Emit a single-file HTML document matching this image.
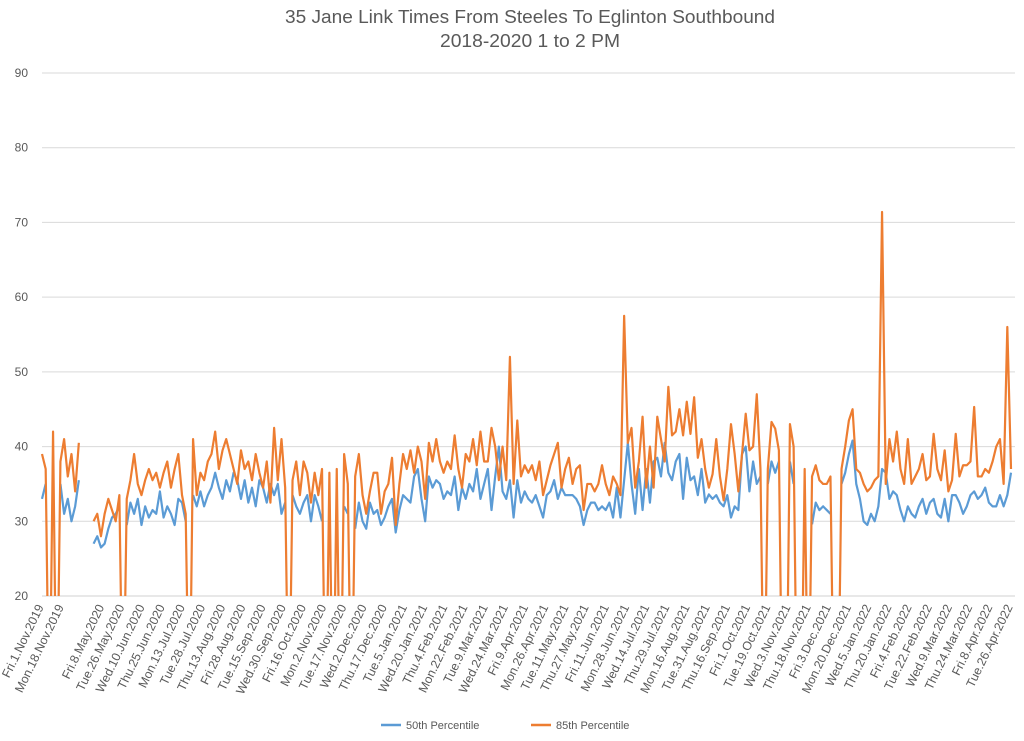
<!DOCTYPE html>
<html><head><meta charset="utf-8">
<style>
body{margin:0;background:#fff;}
svg{display:block;font-family:"Liberation Sans",sans-serif;}
</style></head>
<body>
<svg id="chart" width="1024" height="741" viewBox="0 0 1024 741" xmlns="http://www.w3.org/2000/svg">
<defs><clipPath id="plotclip"><rect x="38" y="60" width="985" height="536"/></clipPath></defs>
<rect width="1024" height="741" fill="#fff"/>
<text x="530" y="23" text-anchor="middle" font-size="18" fill="#595959" textLength="490" lengthAdjust="spacingAndGlyphs">35 Jane Link Times From Steeles To Eglinton Southbound</text>
<text x="530" y="47" text-anchor="middle" font-size="18" fill="#595959" textLength="180" lengthAdjust="spacingAndGlyphs">2018-2020 1 to 2 PM</text>
<g id="grid"></g>
<g id="yticks"></g>
<g id="xticks"></g>
<g id="series" clip-path="url(#plotclip)"></g>
<g>
<g>
<line x1="381" y1="725" x2="401" y2="725" stroke="#5B9BD5" stroke-width="2.5"/>
<text x="406" y="729" font-size="11" fill="#595959">50th Percentile</text>
</g>
<g>
<line x1="531" y1="725" x2="551" y2="725" stroke="#ED7D31" stroke-width="2.5"/>
<text x="556" y="729" font-size="11" fill="#595959">85th Percentile</text>
</g>
</g>
</svg>
<script>
const yTicks = [20,30,40,50,60,70,80,90];
const xLabels = ["Fri.1.Nov.2019","Mon.18.Nov.2019",null,"Fri.8.May.2020","Tue.26.May.2020","Wed.10.Jun.2020","Thu.25.Jun.2020","Mon.13.Jul.2020","Tue.28.Jul.2020","Thu.13.Aug.2020","Fri.28.Aug.2020","Tue.15.Sep.2020","Wed.30.Sep.2020","Fri.16.Oct.2020","Mon.2.Nov.2020","Tue.17.Nov.2020","Wed.2.Dec.2020","Thu.17.Dec.2020","Tue.5.Jan.2021","Wed.20.Jan.2021","Thu.4.Feb.2021","Mon.22.Feb.2021","Tue.9.Mar.2021","Wed.24.Mar.2021","Fri.9.Apr.2021","Mon.26.Apr.2021","Tue.11.May.2021","Thu.27.May.2021","Fri.11.Jun.2021","Mon.28.Jun.2021","Wed.14.Jul.2021","Thu.29.Jul.2021","Mon.16.Aug.2021","Tue.31.Aug.2021","Thu.16.Sep.2021","Fri.1.Oct.2021","Tue.19.Oct.2021","Wed.3.Nov.2021","Thu.18.Nov.2021","Fri.3.Dec.2021","Mon.20.Dec.2021","Wed.5.Jan.2022","Thu.20.Jan.2022","Fri.4.Feb.2022","Tue.22.Feb.2022","Wed.9.Mar.2022","Thu.24.Mar.2022","Fri.8.Apr.2022","Tue.26.Apr.2022"];
const p85 = [
39,37,0,42,0,38,41,36,39,34,40.5,
null,null,null,
30,31,28,31,33,31.5,30,33.5,0,33,35.5,39,35,33.5,35.5,37,35.5,36.5,34.5,36.5,38,34.5,37,39,33.5,31,0,
41,33.5,36.5,35.5,38,39,42,37,39.5,41,39,37,35,39.5,37,38,35.5,39,36.5,34.5,38,32.5,42.5,35.5,41,34.5,0,
35.5,38,33.5,38,36.5,32.5,36.5,33.5,37,0,36.5,0,37,0,39,35,0,36,39,33.5,31,
34,36.5,36.5,31,34,35,38.5,29.5,35,39,37,39.5,36.5,40,38,33,40.5,38,41,38,36.5,38,37,41.5,37,34.5,39,38,41,37.5,
42,38,38,42.5,40,35.5,40,35.5,52,35,43.5,36,37.5,36.5,37.5,35.5,38,33.5,35.5,37.5,39,40.5,34.5,37,38.5,35,37,37.5,31.5,35,
35,34,35,37.5,35,33.5,36,35,33.5,57.5,40.5,42.5,34.5,38,44,34.5,40,34.5,44,41,38,48,41.5,42,45,41.5,46,
41.7,46.6,38.5,41,37,34.5,36.3,41,36,32.8,37,43,39,34,39,44.4,39.5,40,47,37,0,37,43.3,42.4,39.5,0,0,43,40,0,
0,37,0,36,37.5,35.5,35,35,36,0,0,37,40,43.5,45,37,36.5,35,34,34.5,35.5,36,71.4,35,41,38,42,37,35,41,
35,36,37,39,35.5,36,41.7,37,35.5,39.5,34,35.5,41.7,36,37.5,37.5,38,45.3,36,36,37,36.5,38,40,41,35,56,37
];
const p50 = [
33,35,null,34,null,35,31,33,30,32,35.5,
null,null,null,
27,28,26.5,27,29,30.5,31,32,null,29.5,32.5,31,33,29.5,32,30.5,31.5,31,34,30.5,32,31,29.5,33,32.5,30,null,
33.5,32,34,32,33.5,34.5,36.5,34.5,33,35.5,34,36.5,35.5,33,35.5,32.5,34.5,32,35.5,34.5,32.5,35,33.5,35,31,32.5,null,
33.5,32,31,32.5,33.5,30,33.5,32,30,null,31,null,31.5,null,32,31,null,29,32.5,30,29,
32.5,31,31.5,29.5,30.5,32,33,28.5,31.5,33.5,33,32.5,36,37,33,30,36,34.5,35.5,35,33,34,33.5,36,31.5,34.5,33,35,34,37,
33,35,37,31.5,36,40,34,33,35.5,30.5,35.5,32.5,34,33,32.5,33.5,32,30.5,33.5,34,35.5,33,34.5,33.5,33.5,33.5,33,32,29.5,31.5,
32.5,32.5,31.5,32,31.5,32.5,30.5,34.5,30.5,35.5,40.5,35,31,37,31.5,37,32.5,38,38.5,36,40.5,36.5,35.5,38,39,33,38.5,
35.5,36,33.5,37,32.5,33.6,33,33.5,32.5,32,33.5,30.5,32,31.5,39,40,34,38,35,36,null,35,38,36.5,38,null,null,38,35,null,
null,null,null,29.6,32.5,31.5,32,31.5,31,null,null,35,36.5,39,40.8,35,33,30,29.5,31,30,32,37,36.5,33,34,33.5,31.5,30,32,
31,30.5,32,33,31,32.5,33,31,30.5,33,30,33.5,33.5,32.5,31,32,33.5,34,33,33.5,34.5,32.5,32,32,33.5,32,33.5,36.5
];

const NS = "http://www.w3.org/2000/svg";
const X0 = 42, X1 = 1015, YB = 596, YT = 73, YMIN = 20, YMAX = 90;
const N = p85.length;
function xData(i){ return 42 + i * (1011 - 42) / (N - 1); }
function xLabel(s){ return 44 + s * (1012 - 43) / (xLabels.length - 1); }
function yPos(v){ return YB - (v - YMIN) / (YMAX - YMIN) * (YB - YT); }
function mk(tag, attrs, parent){ const e = document.createElementNS(NS, tag); for (const k in attrs) e.setAttribute(k, attrs[k]); parent.appendChild(e); return e; }

const grid = document.getElementById('grid');
const yt = document.getElementById('yticks');
yTicks.forEach(v => {
  const l = mk('line', {x1:X0, x2:X1, y1:yPos(v), y2:yPos(v), stroke: v===20 ? '#d0d0d0' : '#d9d9d9', 'stroke-width':1}, grid);
  
  
  const t = mk('text', {x:28, y:yPos(v)+4, 'text-anchor':'end', 'font-size':12, fill:'#595959'}, yt);
  t.textContent = v;
  
  
});

const xt = document.getElementById('xticks');
xLabels.forEach((lab, s) => {
  if (!lab) return;
  const x = xLabel(s);
  const t = mk('text', {x:x, y:607, 'text-anchor':'end', 'font-size':12.3, fill:'#595959', transform:'rotate(-64 ' + x + ' 607)'}, xt);
  t.textContent = lab;
  
  
});

function pathFor(arr){
  let d = '', pen = false;
  arr.forEach((v, i) => {
    if (v === null) { pen = false; return; }
    d += (pen ? 'L' : 'M') + xData(i).toFixed(2) + ' ' + yPos(v).toFixed(2) + ' ';
    pen = true;
  });
  return d;
}
const sg = document.getElementById('series');
const s50 = mk('path', {d:pathFor(p50), fill:'none', stroke:'#5B9BD5', 'stroke-width':2.2, 'stroke-linejoin':'round'}, sg);


const s85 = mk('path', {d:pathFor(p85), fill:'none', stroke:'#ED7D31', 'stroke-width':2.2, 'stroke-linejoin':'round'}, sg);


</script>
</body></html>
